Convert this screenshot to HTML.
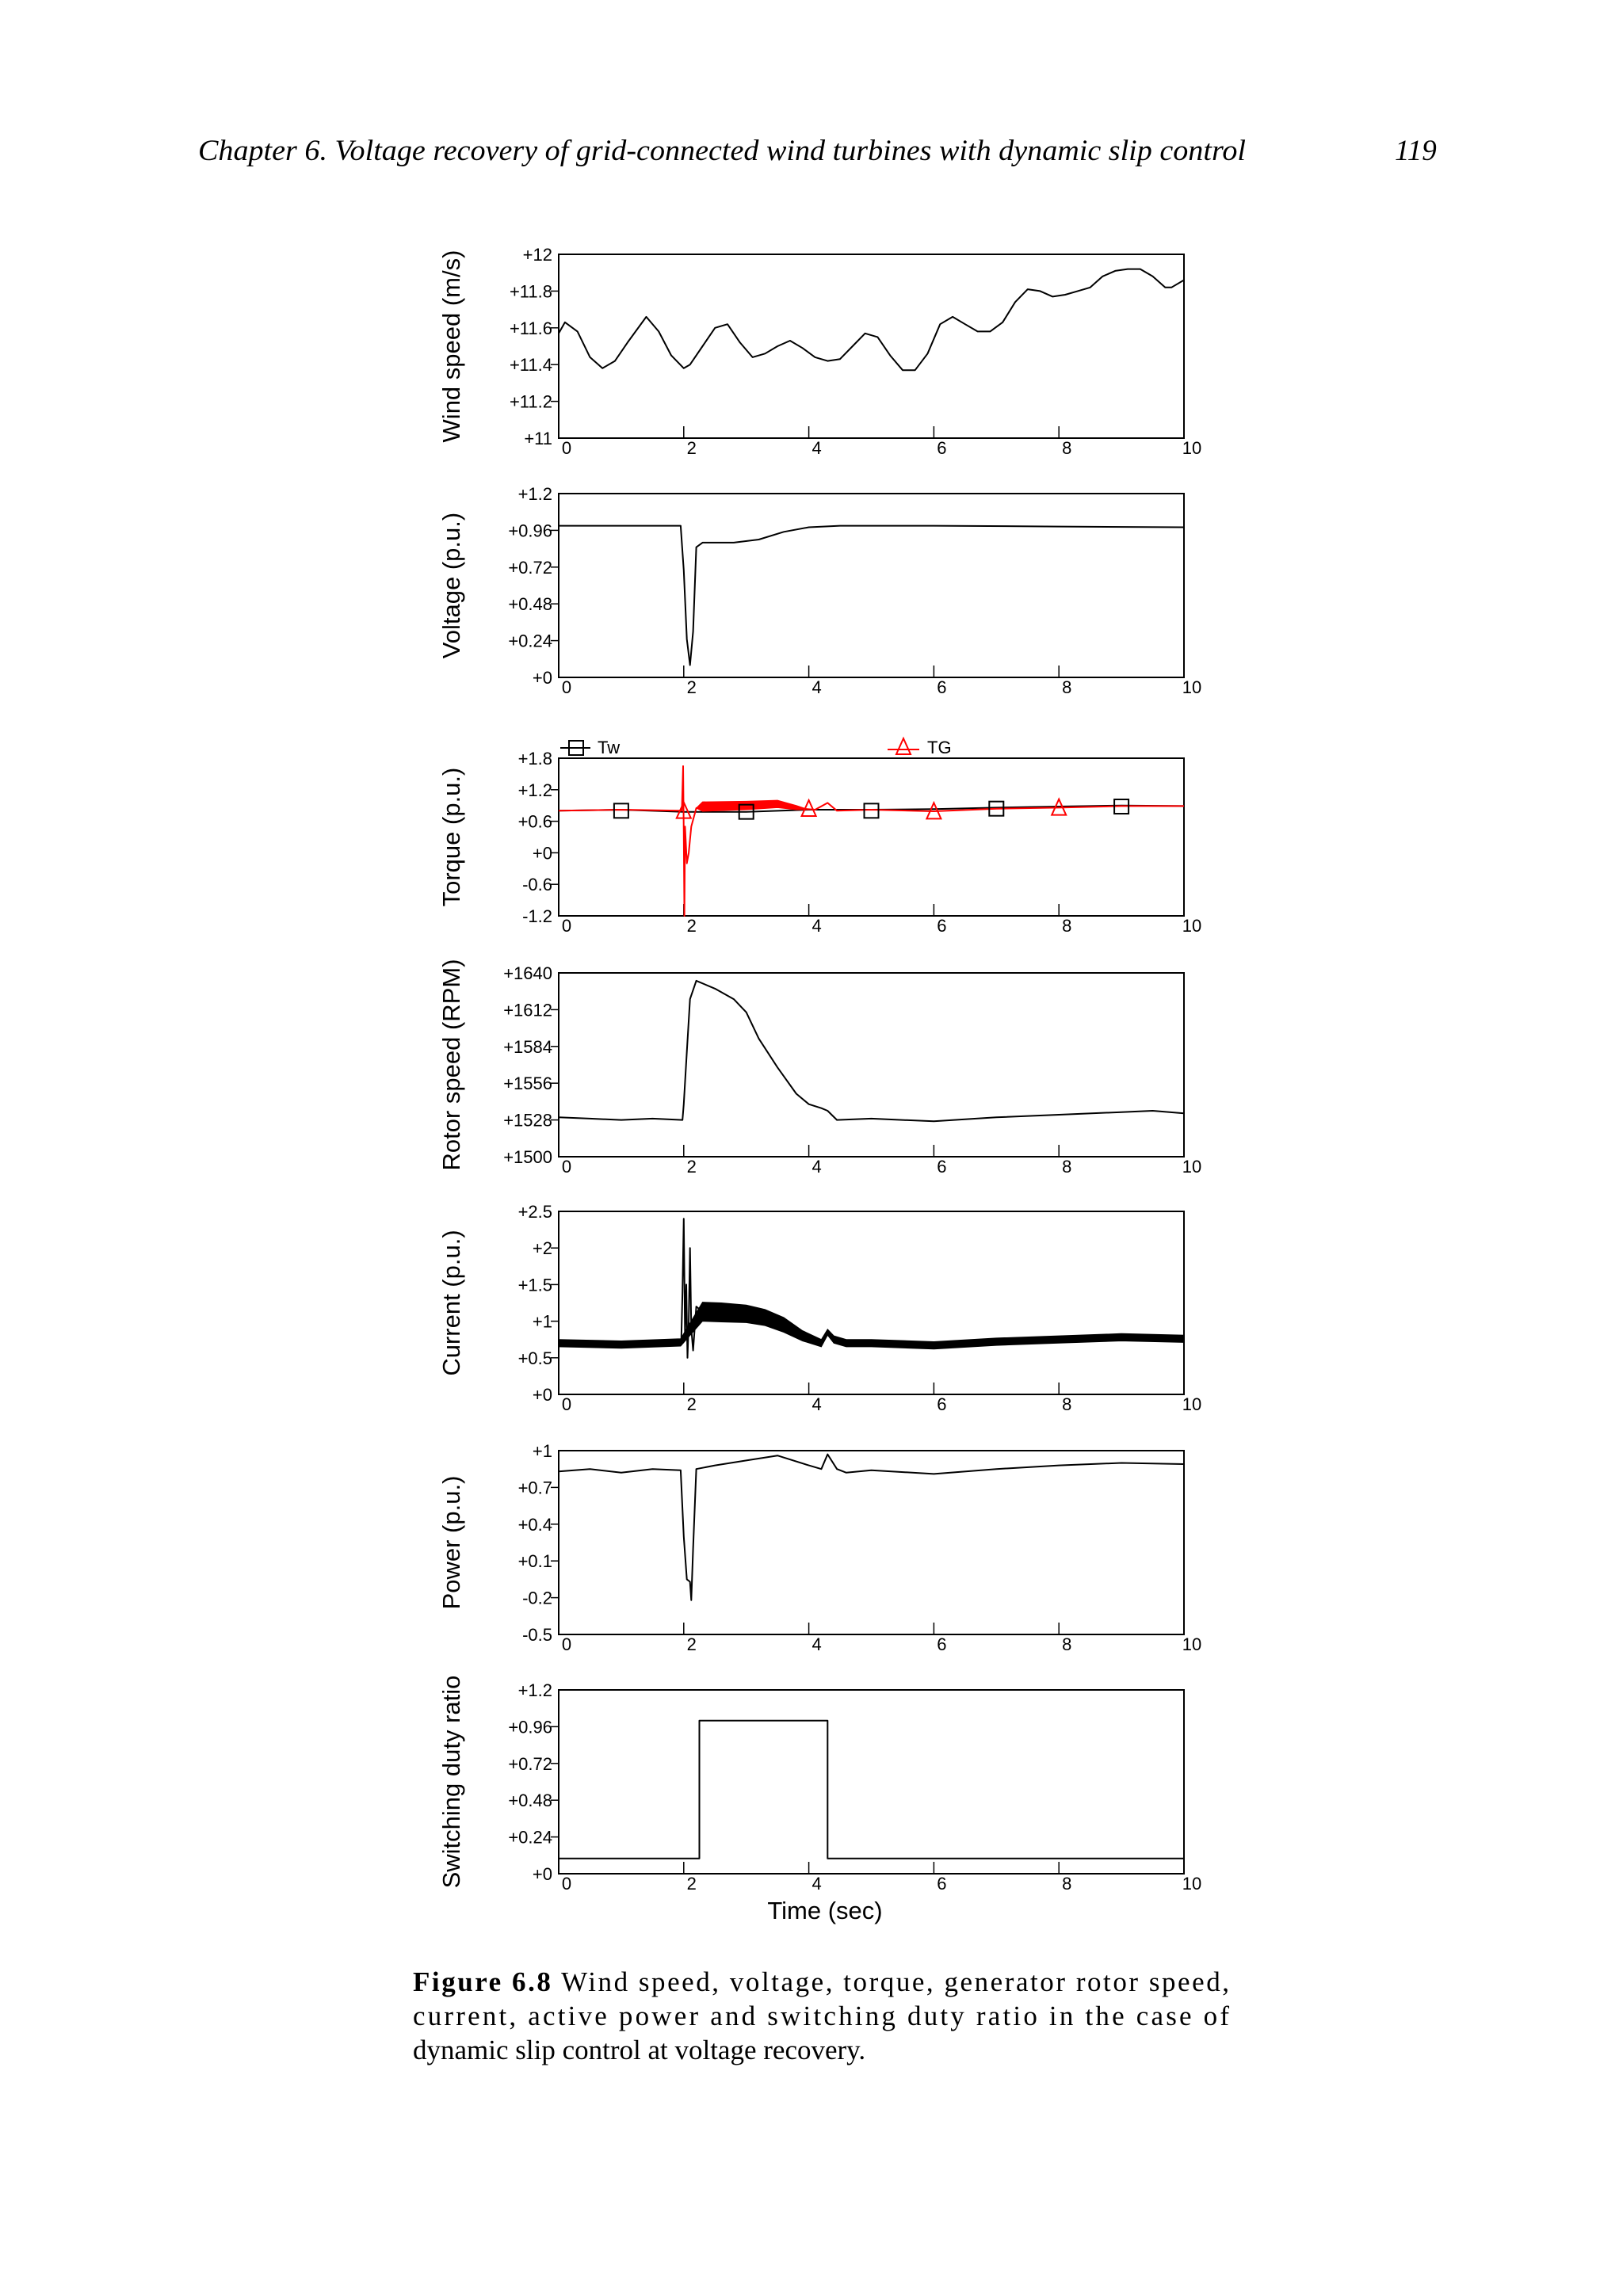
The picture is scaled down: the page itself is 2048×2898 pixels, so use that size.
<!DOCTYPE html>
<html><head><meta charset="utf-8"><style>
html,body{margin:0;padding:0;background:#fff}
svg{display:block}
.tk{font-family:"Liberation Sans",sans-serif;font-size:22px;fill:#000}
.ttl{font-family:"Liberation Sans",sans-serif;font-size:31px;fill:#000}
.cap{font-family:"Liberation Serif",serif;font-size:35px;fill:#000}
</style></head><body>
<svg id="fig" xmlns="http://www.w3.org/2000/svg" width="2048" height="2898" viewBox="0 0 2048 2898">
<rect width="2048" height="2898" fill="#fff"/>
<text x="250" y="202" font-family="Liberation Serif,serif" font-style="italic" font-size="37" textLength="1322" lengthAdjust="spacingAndGlyphs">Chapter 6. Voltage recovery of grid-connected wind turbines with dynamic slip control</text>
<text x="1760" y="202" font-family="Liberation Serif,serif" font-style="italic" font-size="37">119</text>
<text class="ttl" x="1041" y="2422" text-anchor="middle">Time (sec)</text>
<text class="cap" x="521" y="2513" textLength="1030" lengthAdjust="spacing"><tspan font-weight="bold">Figure 6.8</tspan> Wind speed, voltage, torque, generator rotor speed,</text>
<text class="cap" x="521" y="2556" textLength="1030" lengthAdjust="spacing">current, active power and switching duty ratio in the case of</text>
<text class="cap" x="521" y="2599">dynamic slip control at voltage recovery.</text>
<g id="plots"></g>
</svg>
<script>
// ---- data ----
const xTicks = [0,2,4,6,8,10];
const windT = [0,0.1,0.3,0.5,0.7,0.9,1.1,1.4,1.6,1.8,2.0,2.1,2.3,2.5,2.7,2.9,3.1,3.3,3.5,3.7,3.9,4.1,4.3,4.5,4.7,4.9,5.1,5.3,5.5,5.7,5.9,6.1,6.3,6.5,6.7,6.9,7.1,7.3,7.5,7.7,7.9,8.1,8.3,8.5,8.7,8.9,9.1,9.3,9.5,9.7,9.8,10];
const windV = [11.57,11.63,11.58,11.44,11.38,11.42,11.52,11.66,11.58,11.45,11.38,11.40,11.50,11.60,11.62,11.52,11.44,11.46,11.50,11.53,11.49,11.44,11.42,11.43,11.50,11.57,11.55,11.45,11.37,11.37,11.46,11.62,11.66,11.62,11.58,11.58,11.63,11.74,11.81,11.80,11.77,11.78,11.80,11.82,11.88,11.91,11.92,11.92,11.88,11.82,11.82,11.86];
const windTicks = ["+11","+11.2","+11.4","+11.6","+11.8","+12"];
const voltT = [0,1.95,2.0,2.05,2.1,2.15,2.2,2.3,2.8,3.2,3.6,4.0,4.5,6,8,10];
const voltV = [0.99,0.99,0.70,0.25,0.08,0.30,0.85,0.88,0.88,0.90,0.95,0.98,0.99,0.99,0.985,0.98];
const voltTicks = ["+0","+0.24","+0.48","+0.72","+0.96","+1.2"];
const twT = [0,1,2,3,4,5,6,7,8,9,10];
const twV = [0.80,0.82,0.78,0.78,0.82,0.82,0.83,0.86,0.88,0.90,0.89];
const tgT = [0,1,1.97,1.99,2.0,2.01,2.02,2.05,2.08,2.12,2.2,2.3,2.8,3.4,3.8,4.1,4.3,4.45,5,6,7,8,9,10];
const tgV = [0.80,0.82,0.80,1.65,0.4,-1.2,0.5,-0.2,0.0,0.5,0.85,0.88,0.90,0.95,0.85,0.82,0.95,0.80,0.82,0.79,0.84,0.86,0.89,0.89];
const tgBandT = [2.2,2.3,3.0,3.5,3.8,4.0];
const tgBandC = [0.85,0.88,0.90,0.93,0.86,0.82];
const tgBandW = [0.0,0.09,0.08,0.07,0.04,0.0];
const twMarkT = [1,3,5,7,9];
const twMarkV = [0.80,0.78,0.80,0.84,0.88];
const tgMarkT = [2,4,6,8];
const tgMarkV = [0.78,0.82,0.77,0.84];
const torqTicks = ["-1.2","-0.6","+0","+0.6","+1.2","+1.8"];
const rpmT = [0,0.5,1,1.5,1.98,2.0,2.05,2.1,2.2,2.5,2.8,3.0,3.2,3.5,3.8,4.0,4.2,4.3,4.45,5,6,7,8,9,9.5,10];
const rpmV = [1530,1529,1528,1529,1528,1540,1580,1620,1634,1628,1620,1610,1590,1568,1548,1540,1537,1535,1528,1529,1527,1530,1532,1534,1535,1533];
const rpmTicks = ["+1500","+1528","+1556","+1584","+1612","+1640"];
const curT = [0,1,1.95,2.3,2.6,3.0,3.3,3.6,3.9,4.2,4.3,4.4,4.6,5,6,7,8,9,10];
const curV = [0.70,0.68,0.71,1.13,1.12,1.10,1.05,0.95,0.80,0.70,0.85,0.75,0.70,0.70,0.67,0.72,0.75,0.78,0.76];
const curW = [0.05,0.05,0.05,0.13,0.13,0.12,0.11,0.10,0.07,0.05,0.04,0.05,0.05,0.05,0.05,0.05,0.05,0.05,0.05];
const curSpikeT = [1.96,1.98,2.0,2.02,2.04,2.06,2.08,2.1,2.12,2.15,2.2,2.3];
const curSpikeV = [0.70,1.4,2.4,0.8,1.5,0.5,1.0,2.0,0.9,0.6,1.2,1.13];
const curTicks = ["+0","+0.5","+1","+1.5","+2","+2.5"];
const powT = [0,0.5,1,1.5,1.95,2.0,2.05,2.1,2.12,2.15,2.2,2.5,3,3.5,4,4.2,4.3,4.45,4.6,5,6,7,8,9,10];
const powV = [0.83,0.85,0.82,0.85,0.84,0.3,-0.05,-0.07,-0.22,0.2,0.85,0.88,0.92,0.96,0.88,0.85,0.97,0.85,0.82,0.84,0.81,0.85,0.88,0.90,0.89];
const powTicks = ["-0.5","-0.2","+0.1","+0.4","+0.7","+1"];
const dutyT = [0,2.25,2.25,4.3,4.3,10];
const dutyV = [0.1,0.1,1.0,1.0,0.1,0.1];
const dutyTicks = ["+0","+0.24","+0.48","+0.72","+0.96","+1.2"];

// ---- layout ----
const NS="http://www.w3.org/2000/svg";
const root=document.getElementById('plots');
const X0=705,X1=1494;
function mk(tag,attrs,parent){const e=document.createElementNS(NS,tag);for(const k in attrs)e.setAttribute(k,attrs[k]);(parent||root).appendChild(e);return e;}
function panel(name,top,bot,ymin,ymax,ticks,title){
  const g=mk('g',{});
  
  
  const sx=t=>X0+(t-0)/10*(X1-X0);
  const sy=v=>bot-(v-ymin)/(ymax-ymin)*(bot-top);
  const box=mk('rect',{x:X0,y:top,width:X1-X0,height:bot-top,fill:'none',stroke:'#000','stroke-width':2},g);
  
  
  xTicks.forEach(t=>{
    if(t>0&&t<10){const l=mk('line',{x1:sx(t),x2:sx(t),y1:bot,y2:bot-15,stroke:'#000','stroke-width':1.5},g);
      
      }
    const tx=mk('text',{x:sx(t)+10,y:bot+20,'text-anchor':'middle',class:'tk'},g);
    
    
    tx.textContent=t;
  });
  ticks.forEach((lab,i)=>{
    const v=ymin+i*(ymax-ymin)/(ticks.length-1);const y=sy(v);
    if(i>0&&i<ticks.length-1){const l=mk('line',{x1:X0-10,x2:X0,y1:y,y2:y,stroke:'#000','stroke-width':1.5},g);
      
      }
    const tx=mk('text',{x:697,y:y+8,'text-anchor':'end',class:'tk'},g);
    
    
    tx.textContent=lab;
  });
  const cy=(top+bot)/2;
  const tt=mk('text',{x:580,y:cy,'text-anchor':'middle',class:'ttl',transform:`rotate(-90 580 ${cy})`},g);
  
  
  tt.textContent=title;
  return {g,sx,sy};
}
function line(p,T,V,color,w,name){
  const d=T.map((t,i)=>(i?'L':'M')+p.sx(t).toFixed(1)+' '+p.sy(V[i]).toFixed(1)).join(' ');
  const e=mk('path',{d,fill:'none',stroke:color,'stroke-width':w,'stroke-linejoin':'round'},p.g);
  
  
  return e;
}
function band(p,T,V,W,color,name){
  const up=T.map((t,i)=>p.sx(t).toFixed(1)+','+p.sy(V[i]+W[i]).toFixed(1));
  const lo=T.map((t,i)=>p.sx(t).toFixed(1)+','+p.sy(V[i]-W[i]).toFixed(1)).reverse();
  const e=mk('polygon',{points:up.concat(lo).join(' '),fill:color,stroke:color,'stroke-width':1},p.g);
  
  
}
// 1 wind
let p=panel('wind-speed',321,553,11,12,windTicks,'Wind speed (m/s)');
line(p,windT,windV,'#000',2,'wind-speed-line');
// 2 voltage
p=panel('voltage',623,855,0,1.2,voltTicks,'Voltage (p.u.)');
line(p,voltT,voltV,'#000',2,'voltage-line');
// 3 torque
p=panel('torque',957,1156,-1.2,1.8,torqTicks,'Torque (p.u.)');
line(p,twT,twV,'#000',2,'tw-line');
line(p,tgT,tgV,'#f00',2,'tg-line');
band(p,tgBandT,tgBandC,tgBandW,'#f00','tg-oscillation-band');
twMarkT.forEach((t,i)=>{const x=p.sx(t),y=p.sy(twMarkV[i]);
  const m=mk('rect',{x:x-9,y:y-9,width:18,height:18,fill:'none',stroke:'#000','stroke-width':2},p.g);
  
  });
tgMarkT.forEach((t,i)=>{const x=p.sx(t),y=p.sy(tgMarkV[i]);
  const m=mk('polygon',{points:`${x},${y-12} ${x-9},${y+8} ${x+9},${y+8}`,fill:'none',stroke:'#f00','stroke-width':2},p.g);
  
  });
// legend
const lg=mk('g',{});


mk('line',{x1:707,x2:745,y1:944,y2:944,stroke:'#000','stroke-width':2},lg);
mk('rect',{x:718,y:935,width:18,height:18,fill:'none',stroke:'#000','stroke-width':2},lg);
let lt=mk('text',{x:754,y:951,class:'tk'},lg);lt.textContent='Tw';
mk('line',{x1:1120,x2:1160,y1:946,y2:946,stroke:'#f00','stroke-width':2},lg);
mk('polygon',{points:'1140,932 1131,952 1149,952',fill:'none',stroke:'#f00','stroke-width':2},lg);
lt=mk('text',{x:1170,y:951,class:'tk'},lg);lt.textContent='TG';
// 4 rpm
p=panel('rotor-speed',1228,1460,1500,1640,rpmTicks,'Rotor speed (RPM)');
line(p,rpmT,rpmV,'#000',2,'rotor-speed-line');
// 5 current
p=panel('current',1529,1760,0,2.5,curTicks,'Current (p.u.)');
band(p,curT,curV,curW,'#000','current-band');
line(p,curSpikeT,curSpikeV,'#000',2,'current-transient');
// 6 power
p=panel('power',1831,2063,-0.5,1,powTicks,'Power (p.u.)');
line(p,powT,powV,'#000',2,'power-line');
// 7 duty
p=panel('duty-ratio',2133,2365,0,1.2,dutyTicks,'Switching duty ratio');
line(p,dutyT,dutyV,'#000',2,'duty-ratio-line');
</script>
</body></html>
